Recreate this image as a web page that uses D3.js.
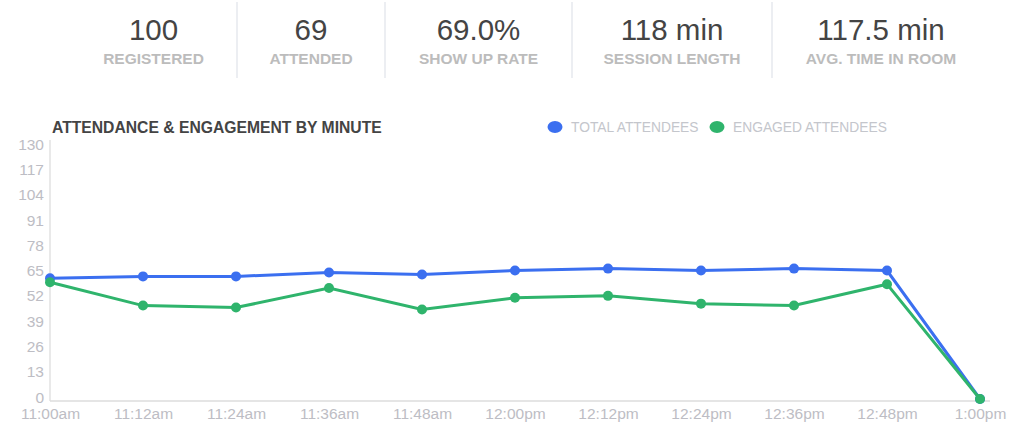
<!DOCTYPE html>
<html>
<head>
    <meta charset="utf-8">
    <title>Attendance & Engagement</title>
    <style type="text/css">
        body {
            margin: 0;
            background: #fff;
            font-family: "Liberation Sans", Arial, sans-serif;
        }
    </style>
</head>
<body>
<svg id="chart" width="1012" height="424"></svg>

<script src="https://cdn.jsdelivr.net/npm/d3@7"></script>
<script type="text/javascript">
    // summary numbers on top
    var statValues = ["100", "69", "69.0%", "118 min", "117.5 min"];
    var statLabels = ["REGISTERED", "ATTENDED", "SHOW UP RATE", "SESSION LENGTH", "AVG. TIME IN ROOM"];

    // chart data
    var times = ["11:00am", "11:12am", "11:24am", "11:36am", "11:48am", "12:00pm",
                 "12:12pm", "12:24pm", "12:36pm", "12:48pm", "1:00pm"];
    var totalAttendees = [62, 63, 63, 65, 64, 66, 67, 66, 67, 66, 0];
    var engagedAttendees = [60, 48, 47, 57, 46, 52, 53, 49, 48, 59, 0];
    var yTicks = [0, 13, 26, 39, 52, 65, 78, 91, 104, 117, 130];

    var svg = d3.select("#chart");

    // ---- stats row ----
    var cellEdges = [70, 237, 385, 572, 772, 990];
    var stats = svg.append("g").selectAll("g")
        .data(statValues)
        .enter().append("g")
        .attr("transform", function (d, i) {
            return "translate(" + (cellEdges[i] + cellEdges[i + 1]) / 2 + ",0)";
        });
    stats.append("text")
        .attr("y", 40)
        .attr("text-anchor", "middle")
        .style("font-size", "29.5px")
        .style("fill", "#444")
        .text(function (d) { return d; });
    stats.append("text")
        .attr("y", 64)
        .attr("text-anchor", "middle")
        .style("font-size", "15.5px")
        .style("font-weight", "bold")
        .style("fill", "#bcbcbc")
        .text(function (d, i) { return statLabels[i]; });

    svg.append("g").selectAll("line")
        .data(cellEdges.slice(1, 5))
        .enter().append("line")
        .attr("x1", function (d) { return d; })
        .attr("x2", function (d) { return d; })
        .attr("y1", 2)
        .attr("y2", 78)
        .style("stroke", "#e6e9ee")
        .style("stroke-width", 1.5);

    // ---- line chart ----
    var x = d3.scalePoint().domain(times).range([50, 980]);
    var y = d3.scaleLinear().domain([0, 130]).range([399, 146]);

    svg.append("text")
        .attr("x", 52)
        .attr("y", 133)
        .style("font-size", "15.7px")
        .style("font-weight", "bold")
        .style("fill", "#444")
        .text("ATTENDANCE & ENGAGEMENT BY MINUTE");

    // y axis
    var yAxis = svg.append("g")
        .attr("transform", "translate(50,0)")
        .call(d3.axisLeft(y).tickValues(yTicks).tickSize(0).tickPadding(6));
    yAxis.select(".domain").attr("d", "M0,140V401").style("stroke", "#e2e2e2").style("stroke-width", 1.5);
    yAxis.selectAll("text")
        .attr("dy", "0.2em")
        .style("font-family", "'Liberation Sans', Arial, sans-serif")
        .style("font-size", "15.5px")
        .style("fill", "#bdbdc4");

    // x axis
    var xAxis = svg.append("g")
        .attr("transform", "translate(0,401)")
        .call(d3.axisBottom(x).tickSize(0).tickPadding(7));
    xAxis.select(".domain").attr("d", "M50,0H990").style("stroke", "#dcdcdc").style("stroke-width", 1.5);
    xAxis.selectAll("text")
        .style("font-family", "'Liberation Sans', Arial, sans-serif")
        .style("font-size", "15.5px")
        .style("fill", "#bdbdc4");

    var series = [
        {name: "TOTAL ATTENDEES", values: totalAttendees, color: "#3b6ff0"},
        {name: "ENGAGED ATTENDEES", values: engagedAttendees, color: "#2fb46c"}
    ];

    var line = d3.line()
        .x(function (d, i) { return x(times[i]); })
        .y(function (d) { return y(d); });

    var sg = svg.append("g").selectAll("g")
        .data(series)
        .enter().append("g");

    sg.append("path")
        .attr("d", function (d) { return line(d.values); })
        .style("fill", "none")
        .style("stroke", function (d) { return d.color; })
        .style("stroke-width", 3);

    sg.selectAll("circle")
        .data(function (d) {
            return d.values.map(function (v, i) { return {v: v, i: i, color: d.color}; });
        })
        .enter().append("circle")
        .attr("cx", function (d) { return x(times[d.i]); })
        .attr("cy", function (d) { return y(d.v); })
        .attr("r", 5)
        .style("fill", function (d) { return d.color; });

    // legend
    var legendX = [555, 717];
    var lg = svg.append("g").selectAll("g")
        .data(series)
        .enter().append("g")
        .attr("transform", function (d, i) { return "translate(" + legendX[i] + ",127)"; });
    lg.append("ellipse")
        .attr("rx", 7.5)
        .attr("ry", 6)
        .style("fill", function (d) { return d.color; });
    lg.append("text")
        .attr("x", 16)
        .attr("y", 5)
        .style("font-size", "13.8px")
        .style("fill", "#c4c6cc")
        .text(function (d) { return d.name; });
</script>
</body>
</html>
